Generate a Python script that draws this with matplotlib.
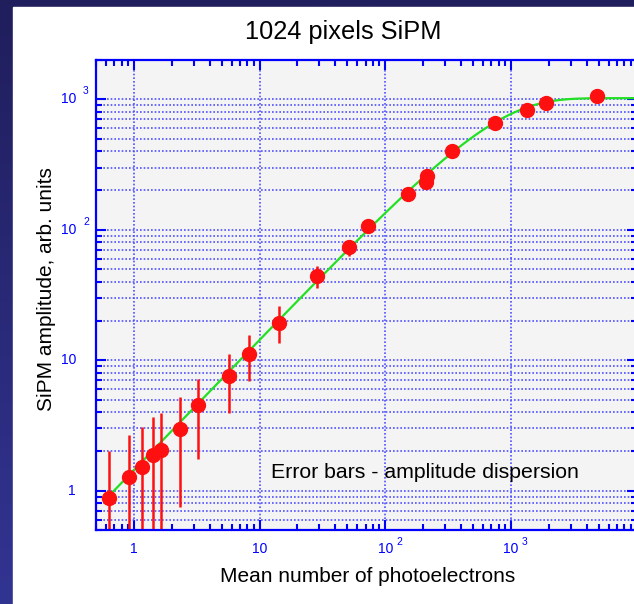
import numpy as np
import matplotlib
matplotlib.use("Agg")
import matplotlib.pyplot as plt
from matplotlib.patches import Rectangle
from matplotlib import transforms as mtrans
from matplotlib.ticker import LogLocator, NullFormatter

# ---------------- data ----------------
mean_pe = [0.638, 0.911, 1.156, 1.43, 1.65, 2.32, 3.22, 5.75, 8.25, 14.4, 28.5,
           51.3, 72.6, 151, 212, 216, 338, 743, 1336, 1903, 4867]
amplitude = [0.875, 1.27, 1.51, 1.88, 2.05, 2.97, 4.51, 7.53, 11.15, 19.4, 44.2,
             73.3, 106.7, 186.8, 233, 259, 401, 653, 826, 930, 1057]
err_high = [2.01, 2.67, 3.08, 3.65, 3.92, 5.2, 7.18, 11.1, 15.6, 26.0, 52.7,
            83.4, 113, 197, 244, 271, 418, 675, 850, 955, 1085]
err_low = [0.1, 0.1, 0.1, 0.1, 0.1, 0.754, 1.75, 3.92, 6.93, 13.5, 35.6,
           62.9, 100, 177, 222, 247, 385, 632, 803, 906, 1030]

# saturation fit parameters: A = N * (1 - exp(-g * Npe / N))
fit_N = 1020.0
fit_gain = 1.44
fit_range = [0.64, 1.0e4]

title = "1024 pixels SiPM"
xlabel = "Mean number of photoelectrons"
ylabel = "SiPM amplitude, arb. units"
note = "Error bars - amplitude dispersion"
x_ticks = [1, 10, 100, 1000]
x_tick_exp = [0, 1, 2, 3]
y_ticks = [1, 10, 100, 1000]
y_tick_exp = [0, 1, 2, 3]

plt.rcParams['font.family'] = ['Liberation Sans', 'DejaVu Sans']

W, H = 634, 604
fig = plt.figure(figsize=(W / 100, H / 100), dpi=100)

# background gradient frame
bg = fig.add_axes([0, 0, 1, 1], zorder=-10)
grad = np.linspace(0, 1, 256).reshape(-1, 1)
top_c = np.array([0x20, 0x1e, 0x5c]) / 255
bot_c = np.array([0x32, 0x34, 0x92]) / 255
img = top_c[None, None, :] * (1 - grad[:, :, None]) + bot_c[None, None, :] * grad[:, :, None]
bg.imshow(img, aspect='auto', extent=[0, 1, 0, 1], origin='upper')
bg.add_patch(Rectangle((13 / W, 0), 1, 1 - 7 / H, color='white', zorder=2))
bg.set_xlim(0, 1)
bg.set_ylim(0, 1)
bg.axis('off')

# main axes
L, R, T, B = 96, 636.6, 60, 530
ax = fig.add_axes([L / W, (H - B) / H, (R - L) / W, (B - T) / H])
ax.set_facecolor('#f4f4f4')
ax.set_xscale('log')
ax.set_yscale('log')
ax.set_xlim(0.5, 1.0e4)
ax.set_ylim(0.5, 2000)

blue = '#0000ff'
gridc = '#5050ff'
for s in ax.spines.values():
    s.set_color(blue)
    s.set_linewidth(1.6)
    s.set_zorder(5)

ax.xaxis.set_major_locator(LogLocator(base=10, numticks=20))
ax.xaxis.set_minor_locator(LogLocator(base=10, subs=np.arange(2, 10), numticks=20))
ax.yaxis.set_major_locator(LogLocator(base=10, numticks=20))
ax.yaxis.set_minor_locator(LogLocator(base=10, subs=np.arange(2, 10), numticks=20))
ax.xaxis.set_minor_formatter(NullFormatter())
ax.yaxis.set_minor_formatter(NullFormatter())
ax.tick_params(which='both', direction='in', colors=blue, top=True, right=True,
               labelbottom=False, labelleft=False, width=1.5)
ax.tick_params(which='major', length=7.5)
ax.tick_params(which='minor', length=4)

ax.grid(True, which='major', axis='x', color=gridc, linestyle=(0, (1, 1.2)), linewidth=1.2)
ax.grid(True, which='both', axis='y', color=gridc, linestyle=(0, (1, 1.2)), linewidth=1.2)
ax.set_axisbelow(True)

# fit curve
xf = np.logspace(np.log10(fit_range[0]), np.log10(fit_range[1]), 400)
yf = fit_N * (1 - np.exp(-fit_gain * xf / fit_N))
ax.plot(xf, yf, color='#22e022', lw=1.6, zorder=3)

# data with error bars
xa = np.array(mean_pe)
ya = np.array(amplitude)
yerr = np.vstack([ya - np.array(err_low), np.array(err_high) - ya])
ax.errorbar(xa, ya, yerr=yerr, fmt='o', color='#ff1010', ecolor='#ff1010',
            markersize=10, elinewidth=1.8, capsize=0, zorder=4, clip_on=True)

ax.text((271 - L) / (R - L), (B - 473) / (B - T), note, transform=ax.transAxes,
        fontsize=15.3, color='black', ha='left', va='center', zorder=6)

# tick labels (base "10" + superscript)
tfs = 10
sfs = 7.5
trans_x = mtrans.blended_transform_factory(ax.transData, ax.transAxes)
for v, e in zip(x_ticks, x_tick_exp):
    ylab = -19 / (B - T)
    base = "1" if e == 0 else "10"
    ax.text(v, ylab, base, transform=trans_x, fontsize=tfs, color=blue,
            ha='center', va='center')
    if e >= 2:
        tr = mtrans.offset_copy(trans_x, fig=fig, x=11, y=7, units='dots')
        ax.text(v, ylab, str(e), transform=tr, fontsize=sfs, color=blue,
                ha='left', va='center')

trans_y = mtrans.blended_transform_factory(ax.transAxes, ax.transData)
for v, e in zip(y_ticks, y_tick_exp):
    xlab = (76 - L) / (R - L)
    base = "1" if e == 0 else "10"
    ax.text(xlab, v, base, transform=trans_y, fontsize=tfs, color=blue,
            ha='right', va='center')
    if e >= 2:
        tr = mtrans.offset_copy(trans_y, fig=fig, x=7, y=8, units='dots')
        ax.text(xlab, v, str(e), transform=tr, fontsize=sfs, color=blue,
                ha='left', va='center')

fig.text(343 / W, 1 - 32 / H, title, fontsize=18.3, ha='center', va='center', color='black')
fig.text(368 / W, 1 - 576 / H, xlabel, fontsize=15, ha='center', va='center', color='black')
fig.text(46 / W, 1 - 289 / H, ylabel, fontsize=15, ha='center', va='center',
         rotation=90, color='black')

fig.savefig("out.png", dpi=100)
